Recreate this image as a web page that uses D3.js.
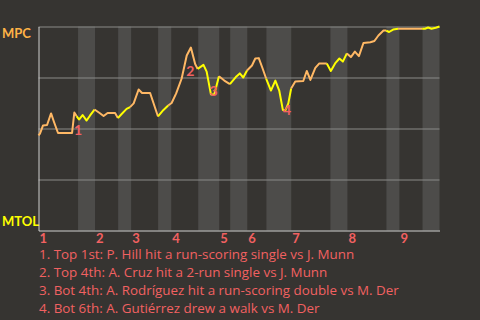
<!DOCTYPE html>
<html>
<head>
<meta charset="utf-8">
<script src="https://cdn.jsdelivr.net/npm/d3@7"></script>
<style>
  body { margin: 0; background: #363431; }
  svg { display: block; font-family: Lato, "Open Sans", sans-serif; }
</style>
</head>
<body>
<div class="wp"></div>
<script>
// win probability, MPC on top (100) and MTOL at bottom (0)

// x = pitch count of the game, y = MPC win probability (%)
var pitch = [0, 1.1, 3.4, 6.4, 9.4, 11.6, 14.6, 25.1, 26.8, 28.5,
  30.3, 33.0, 36.0, 38.6, 41.9, 45.7, 48.7, 51.7, 57.3, 59.4,
  62.2, 65.9, 68.5, 71.2, 74.9, 77.5, 83.5, 89.4, 93.5, 97.0,
  99.6, 103.0, 107.1, 110.9, 114.0, 117.2, 119.1, 123.4, 125.8, 129.0,
  131.5, 135.0, 139.0, 143.2, 147.6, 150.6, 153.2, 156.0, 159.7, 162.2,
  164.8, 167.4, 170.3, 173.9, 177.2, 180.1, 182.8, 184.6, 186.9, 189.0,
  192.1, 198.1, 200.7, 203.4, 207.1, 210.1, 215.7, 218.7, 221.9, 225.1,
  227.7, 230.7, 233.7, 236.7, 239.7, 243.1, 248.3, 251.3, 254.3, 258.1,
  260.1, 262.3, 265.3, 269.0, 287.0, 289.1, 291.5, 294.0, 297.2, 300];

var winProb = [46.6, 47.5, 51.5, 51.7, 57.4, 53.2, 47.8, 47.8, 57.8, 56.1,
  54.4, 56.6, 53.9, 56.4, 59.3, 57.6, 56.1, 57.6, 57.6, 55.1,
  57.1, 59.6, 60.5, 62.3, 69.1, 67.4, 67.4, 55.9, 59.1, 61.3,
  62.5, 67.2, 74.5, 85.8, 89.7, 81.6, 79.2, 81.2, 77.9, 66.7,
  66.7, 75.6, 73.5, 71.8, 75.2, 77.0, 75.0, 78.4, 80.9, 84.3,
  84.5, 79.9, 74.5, 68.6, 73.5, 68.6, 59.1, 58.8, 62.3, 69.6,
  73.0, 73.3, 78.2, 73.8, 79.7, 81.9, 81.9, 78.2, 81.9, 84.3,
  82.8, 86.8, 85.0, 87.7, 85.5, 91.9, 92.3, 92.9, 95.6, 98.0,
  98.0, 97.3, 98.5, 98.9, 98.9, 98.9, 99.5, 98.9, 99.4, 100];

// pitch where each half inning starts (top 1st, bot 1st, top 2nd ...)
var halfStarts = [0, 29.6, 42.3, 59.6, 69.3, 89.5, 99.3, 119.5, 135.2,
  143.4, 156.2, 170.5, 189.1, 218.4, 231.1, 260.3, 270.0, 287.3];
var gameEnd = 300;
var innings = ["1", "2", "3", "4", "5", "6", "7", "8", "9"];

var teamTop = "MPC", teamBottom = "MTOL";

// key plays
var noteNum = ["1", "2", "3", "4"];
var notePitch = [29.6, 113.5, 130.9, 185.9];
var noteWp = [49.5, 78.4, 68.3, 59.3];
var noteText = [
  "1. Top 1st: P. Hill hit a run-scoring single vs J. Munn",
  "2. Top 4th: A. Cruz hit a 2-run single vs J. Munn",
  "3. Bot 4th: A. Rodríguez hit a run-scoring double vs M. Der",
  "4. Bot 6th: A. Gutiérrez drew a walk vs M. Der"
];

var W = 480, H = 320;
var colTop = "#ffb865", colBot = "#ffff00", colNote = "#f26161";

var x = d3.scaleLinear().domain([0, gameEnd]).range([38.5, 439.5]);
var y = d3.scaleLinear().domain([0, 100]).range([230.5, 26.5]);

var svg = d3.select(".wp").append("svg")
    .attr("width", W)
    .attr("height", H);

svg.append("rect").attr("width", W).attr("height", H).attr("fill", "#363431");

/* shaded bottom halves */
var bands = [];
for (var i = 1; i < halfStarts.length; i += 2) {
  bands.push([halfStarts[i], i + 1 < halfStarts.length ? halfStarts[i + 1] : gameEnd]);
}
svg.selectAll(".band").data(bands).enter().append("rect")
    .attr("class", "band")
    .attr("x", function(d) { return x(d[0]); })
    .attr("width", function(d) { return x(d[1]) - x(d[0]); })
    .attr("y", y(100))
    .attr("height", y(0) - y(100))
    .attr("fill", "#4d4c4a");

/* grid */
svg.append("g")
    .attr("transform", "translate(" + x(gameEnd) + ",0)")
    .call(d3.axisLeft(y).tickValues([25, 50, 75, 100]).tickSize(x(gameEnd) - x(0)).tickFormat(""))
    .call(function(g) {
      g.select(".domain").remove();
      g.selectAll("line").attr("stroke", "#8a8a88");
    });

// axes lines
svg.append("g")
    .attr("transform", "translate(0," + y(0) + ")")
    .call(d3.axisBottom(x).tickValues([]).tickSizeOuter(0))
    .select(".domain").attr("stroke", "#cfcfcf");
svg.append("g")
    .attr("transform", "translate(" + x(0) + ",0)")
    .call(d3.axisLeft(y).tickValues([]).tickSizeOuter(0))
    .select(".domain").attr("stroke", "#cfcfcf");

/* line, coloured by half inning */
function half(p) { return d3.bisectRight(halfStarts, p) - 1; }
var pts = pitch.map(function(p, i) { return {p: p, wp: winProb[i]}; });
var runs = [];
for (var k = 1; k < pts.length; k++) {
  var c = half(pts[k].p) % 2 === 0 ? colTop : colBot;
  var last = runs[runs.length - 1];
  if (last && last.color === c) last.pts.push(pts[k]);
  else runs.push({color: c, pts: [pts[k - 1], pts[k]]});
}
var line = d3.line()
    .x(function(d) { return x(d.p); })
    .y(function(d) { return y(d.wp); });
svg.selectAll(".wpline").data(runs).enter().append("path")
    .attr("class", "wpline")
    .attr("d", function(d) { return line(d.pts); })
    .attr("fill", "none")
    .attr("stroke", function(d) { return d.color; })
    .attr("stroke-width", 2)
    .attr("stroke-linejoin", "round");

/* play markers */
svg.selectAll(".mark").data(noteNum).enter().append("text")
    .attr("class", "mark")
    .attr("x", function(d, i) { return x(notePitch[i]); })
    .attr("y", function(d, i) { return y(noteWp[i]); })
    .attr("dy", "0.36em")
    .attr("text-anchor", "middle")
    .attr("font-size", 14)
    .attr("font-weight", "bold")
    .attr("fill", colNote)
    .text(function(d) { return d; });

/* team labels */
svg.append("text").attr("x", 2).attr("y", 38)
    .attr("font-size", 13).attr("font-weight", "bold")
    .attr("fill", "#ffb347").text(teamTop);
svg.append("text").attr("x", 2).attr("y", 226)
    .attr("font-size", 13).attr("font-weight", "bold")
    .attr("fill", colBot).text(teamBottom);

/* inning labels */
svg.selectAll(".inning").data(innings).enter().append("text")
    .attr("class", "inning")
    .attr("x", function(d, i) { return x(halfStarts[i * 2]) + 1; })
    .attr("y", 243)
    .attr("font-size", 13)
    .attr("font-weight", "bold")
    .attr("fill", colNote)
    .text(function(d) { return d; });

/* notes */
svg.selectAll(".note").data(noteText).enter().append("text")
    .attr("class", "note")
    .attr("x", 39)
    .attr("y", function(d, i) { return 259 + i * 18; })
    .attr("font-family", "'Open Sans', sans-serif")
    .attr("font-size", 13.4)
    .attr("fill", colNote)
    .text(function(d) { return d; });
</script>
</body>
</html>
